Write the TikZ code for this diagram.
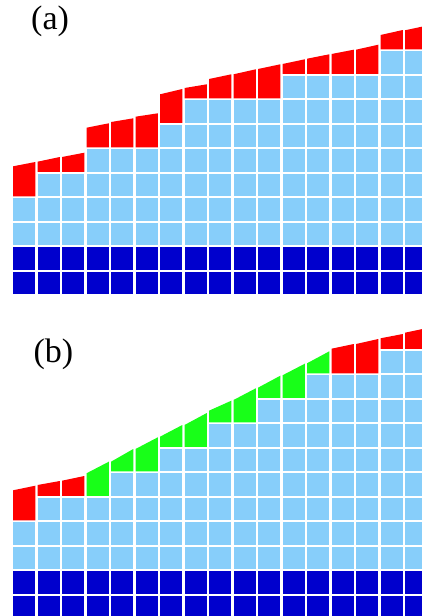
\documentclass[tikz,border=0pt]{standalone}
\usepackage{fontspec}
\setmainfont{Liberation Serif}
\definecolor{cdark}{RGB}{0,0,205}
\definecolor{clight}{RGB}{135,206,250}
\definecolor{cred}{RGB}{255,0,0}
\definecolor{cgreen}{RGB}{24,255,24}
\tikzset{
  darkcell/.style={fill=cdark},
  lightcell/.style={fill=clight},
  lbl/.style={font=\fontsize{34}{40}\selectfont, anchor=base west, inner sep=0pt}
}
\newcommand{\panelcols}[2]{% #1 = y of row-0 bottom, #2 = data list
  \foreach \i/\L/\tl/\tr/\c in {#2} {
    \pgfmathsetmacro\xl{13+24.5*(\i-1)}
    \pgfmathsetmacro\xr{\xl+22.3}
    \foreach \j in {0,1} {
      \pgfmathsetmacro\yb{#1-24.5*\j}
      \fill[darkcell] (\xl,\yb) rectangle (\xr,\yb-22.5);
    }
    \foreach \j in {2,...,\L} {
      \pgfmathsetmacro\yb{#1-24.5*\j}
      \fill[lightcell] (\xl,\yb) rectangle (\xr,\yb-22.5);
    }
    \pgfmathsetmacro\yt{#1-24.5*(\L+1)}
    \fill[fill=\c] (\xl,\yt) -- (\xr,\yt) -- (\xr,\tr) -- (\xl,\tl) -- cycle;
  }
}
\begin{document}
\begin{tikzpicture}[x=1pt,y=-1pt]
\useasboundingbox (0,0) rectangle (422,616);
\clip (0,0) rectangle (422,616);
\fill[white] (0,0) rectangle (422,616);
% panel (a)
\panelcols{294.3}{1/3/166.3/162/cred, 2/4/161.7/157/cred, 3/4/157/152.7/cred,
  4/5/127.7/123.3/cred, 5/5/122/118.3/cred, 6/5/116.7/113.3/cred,
  7/6/94.3/89/cred, 8/7/88/84.3/cred, 9/7/79/74.3/cred, 10/7/74.3/69.3/cred,
  11/7/69/64.3/cred, 12/8/64/59.3/cred, 13/8/58.7/54.3/cred, 14/8/54/49.7/cred,
  15/8/49.7/44.7/cred, 16/9/35/30/cred, 17/9/30.3/25.5/cred}
% panel (b)
\panelcols{618.3}{1/3/490.3/485.7/cred, 2/4/485/481/cred, 3/4/480.7/476/cred,
  4/4/473.3/461.7/cgreen, 5/5/461.7/449/cgreen, 6/5/449/437.3/cgreen,
  7/6/436.7/425/cgreen, 8/6/425/413/cgreen, 9/7/410.7/400.7/cgreen,
  10/7/400/388.3/cgreen, 11/8/387.7/375.7/cgreen, 12/8/375.3/363.7/cgreen,
  13/9/363.3/351.3/cgreen, 14/9/348.7/344/cred, 15/9/344/339/cred,
  16/10/338.3/334/cred, 17/10/332.7/328/cred}
\node[lbl] (la) at (31,29.5) {(a)};
\node[lbl] (lb) at (33.4,362.5) {(b)};
\end{tikzpicture}
\end{document}
